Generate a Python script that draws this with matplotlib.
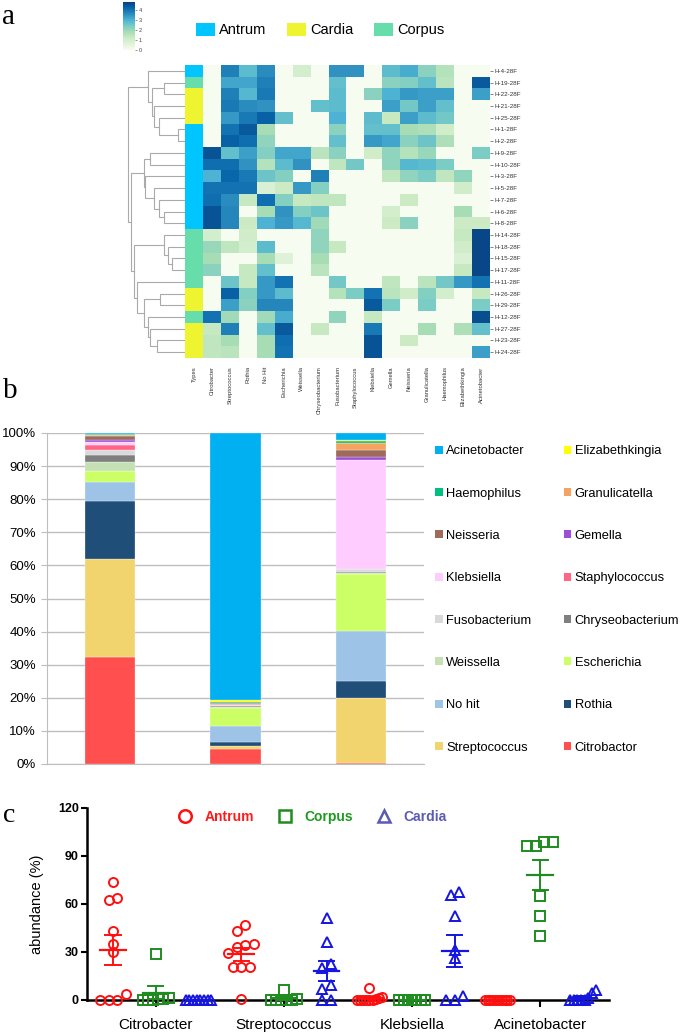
import numpy as np
import matplotlib
matplotlib.use("Agg")
import matplotlib.pyplot as plt
from matplotlib.colors import ListedColormap
from matplotlib.patches import Patch
from matplotlib.lines import Line2D

plt.rcParams['font.family'] = ['Liberation Sans', 'DejaVu Sans']

# ---------------- panel a data ----------------
sample_ids = ["H-4-28F", "H-19-28F", "H-22-28F", "H-21-28F", "H-25-28F", "H-1-28F", "H-2-28F",
              "H-9-28F", "H-10-28F", "H-3-28F", "H-5-28F", "H-7-28F", "H-6-28F", "H-8-28F",
              "H-14-28F", "H-18-28F", "H-15-28F", "H-17-28F", "H-11-28F", "H-26-28F", "H-29-28F",
              "H-12-28F", "H-27-28F", "H-23-28F", "H-24-28F"]
sample_types = ["Antrum", "Corpus", "Cardia", "Cardia", "Cardia", "Antrum", "Antrum",
                "Antrum", "Antrum", "Antrum", "Antrum", "Antrum", "Antrum", "Antrum",
                "Corpus", "Corpus", "Corpus", "Corpus", "Corpus", "Cardia", "Cardia",
                "Corpus", "Cardia", "Cardia", "Cardia"]
genera_a = ["Citrobacter", "Streptococcus", "Rothia", "No Hit", "Escherichia", "Weissella",
            "Chryseobacterium", "Fusobacterium", "Staphylococcus", "Klebsiella", "Gemella",
            "Neisseria", "Granulicatella", "Haemophilus", "Elizabethkingia", "Acinetobacter"]
abund_log = np.array([
    [0, 3.8, 2.8, 3.6, 0, 1.0, 0, 3.5, 3.5, 0, 2.8, 3.1, 2.2, 1.6, 0, 0],
    [0, 3.2, 3.2, 3.8, 0, 0, 0, 2.7, 0, 0, 2.2, 2.3, 2.7, 1.5, 0, 4.4],
    [0, 3.8, 2.9, 3.9, 0, 0, 0, 2.8, 0, 2.2, 3.0, 3.4, 3.3, 3.3, 0, 3.3],
    [0, 3.9, 3.6, 3.5, 0, 0, 2.7, 2.8, 0, 0, 3.3, 2.5, 3.3, 2.7, 0, 0],
    [0, 3.4, 3.9, 4.3, 2.7, 0, 0, 3.0, 0, 2.8, 1.3, 3.3, 2.8, 2.5, 0, 0],
    [0, 4.0, 4.4, 1.8, 0, 0, 0, 2.2, 0, 2.7, 2.7, 1.8, 1.7, 1.1, 0, 0],
    [0, 4.3, 4.1, 2.1, 0, 0, 0, 2.7, 0, 3.4, 3.2, 2.2, 2.6, 1.7, 0, 0],
    [4.5, 2.7, 3.3, 2.3, 3.2, 3.2, 1.5, 2.2, 0, 1.1, 2.1, 1.6, 2.0, 0, 0, 2.4],
    [4.1, 4.1, 3.5, 1.6, 2.8, 3.5, 0, 1.4, 2.5, 0, 2.1, 2.9, 2.8, 2.4, 0, 0],
    [3.0, 4.2, 3.9, 2.6, 2.3, 0, 3.8, 0, 0, 0, 1.4, 2.1, 2.4, 1.4, 2.1, 0],
    [4.0, 4.0, 4.0, 0.8, 1.2, 3.4, 2.3, 0, 0, 0, 0, 0, 0, 0, 1.1, 0],
    [4.1, 3.6, 1.3, 4.1, 2.3, 1.3, 1.4, 1.4, 0, 0, 0, 1.2, 0, 0, 0, 0],
    [4.5, 3.7, 0, 1.8, 3.5, 2.3, 2.6, 0, 0, 0, 1.0, 0, 0, 0, 1.8, 0],
    [4.5, 3.7, 1.2, 3.0, 3.4, 2.9, 1.9, 0, 0, 0, 1.2, 2.2, 0, 0, 1.2, 1.2],
    [1.0, 0, 1.1, 0, 0, 0, 2.1, 0, 0, 0, 0, 0, 0, 0, 1.3, 4.7],
    [2.0, 1.4, 1.0, 2.8, 0, 0, 2.1, 1.3, 0, 0, 0, 0, 0, 0, 1.1, 4.7],
    [1.8, 0, 0, 1.8, 0.7, 0, 1.8, 0, 0, 0, 0, 0, 0, 0, 0.8, 4.7],
    [2.2, 0, 1.3, 2.7, 0, 0, 1.5, 0, 0, 0, 0, 0, 0, 0, 1.3, 4.7],
    [0, 2.6, 1.3, 3.4, 4.0, 0, 0, 2.5, 0, 0, 1.4, 0, 1.5, 2.5, 3.4, 4.0],
    [0, 4.3, 2.3, 3.4, 2.8, 0, 0, 1.6, 2.4, 4.0, 1.5, 1.1, 2.3, 1.0, 0, 1.3],
    [0, 3.3, 2.2, 3.7, 3.7, 0, 0, 0, 0, 4.4, 2.4, 0, 2.4, 0, 0, 2.4],
    [4.0, 1.9, 0, 1.9, 3.1, 0, 0, 2.1, 0, 1.3, 0, 0, 0, 0, 0, 4.6],
    [1.3, 3.8, 0, 2.7, 4.4, 0, 1.3, 0, 0, 3.9, 0, 0, 1.8, 0, 1.7, 2.7],
    [1.4, 1.8, 0, 1.8, 4.1, 0, 0, 0, 0, 4.5, 0, 1.2, 0, 0, 0, 0],
    [1.4, 1.5, 0, 1.8, 4.0, 0, 0, 0, 0, 4.5, 0, 0, 0, 0, 0, 3.3],
])
type_names = ["Antrum", "Cardia", "Corpus"]
type_colors = ["#00C5FF", "#EEF530", "#66DDAA"]

# row dendrogram: (left, right, merge height); leaves are row indices
dendro_tree = (
    (0, (((1, 2, 2.1)), (3, (4, (5, 6, 0.7), 2.6), 3.1), 3.3), 3.6),
    ((((7, 8, 3.4)), (9, (10, (11, (12, 13, 2.1), 2.6), 3.1), 3.9), 4.0),
     ((14, (15, (16, 17, 1.3), 1.7), 2.1),
      (18, ((19, 20, 2.5), (21, (22, (23, 24, 2.8), 3.4), 3.6), 4.0), 4.7), 5.0), 5.3),
    5.6)

# ---------------- panel b data ----------------
groups_b = ["Antrum", "Corpus", "Cardia"]
taxa_b = ["Citrobactor", "Streptococcus", "Rothia", "No hit", "Escherichia", "Weissella",
          "Chryseobacterium", "Fusobacterium", "Staphylococcus", "Klebsiella", "Gemella",
          "Neisseria", "Granulicatella", "Haemophilus", "Elizabethkingia", "Acinetobacter"]
taxa_colors = ["#FF4F4F", "#F2D46F", "#1F4E79", "#9DC3E6", "#CCFF66", "#C5E0B4",
               "#7F7F7F", "#D9D9D9", "#FF6685", "#FFCCFF", "#9B4DDB",
               "#9E6A5A", "#F4A460", "#00C07F", "#FFFF00", "#00B0F0"]
pct_antrum = [32.3, 29.7, 17.5, 5.8, 3.1, 2.8, 2.3, 1.4, 1.6, 0.8, 0.7, 1.0, 0.3, 0.3, 0.1, 0.3]
pct_corpus = [4.4, 1.1, 1.0, 5.1, 5.4, 0.3, 0.3, 0.3, 0.1, 0.1, 0.1, 0.2, 0.1, 0.1, 0.8, 80.6]
pct_cardia = [0.2, 19.7, 5.1, 15.3, 17.0, 0.4, 0.3, 0.8, 0.1, 32.8, 1.0, 2.2, 2.0, 0.8, 0.1, 2.2]

# ---------------- panel c data ----------------
genera_c = ["Citrobacter", "Streptococcus", "Klebsiella", "Acinetobacter"]
sites_c = ["Antrum", "Corpus", "Cardia"]
citro_antrum = [73.5, 63.7, 62.2, 43.4, 35.0, 30.3, 3.5, 0, 0, 0]
citro_corpus = [28.8, 1.0, 0.5, 0.3, 0.5, 0.2, 0]
citro_cardia = [0, 0, 0, 0, 0, 0, 0, 0]
strep_antrum = [47.0, 43.2, 35.0, 34.5, 33.0, 29.6, 20.9, 20.9, 20.9, 0.8]
strep_corpus = [6.3, 0.5, 0.3, 0.2, 0, 0, 0]
strep_cardia = [51.1, 36.5, 22.5, 19.8, 9.4, 6.7, 0, 0]
kleb_antrum = [7.3, 2.0, 1.0, 0.5, 0, 0, 0, 0, 0, 0]
kleb_corpus = [0, 0, 0, 0, 0, 0, 0]
kleb_cardia = [67.2, 65.8, 52.8, 31.3, 26.1, 2.5, 0, 0]
acin_antrum = [0, 0, 0, 0, 0, 0, 0, 0, 0, 0]
acin_corpus = [98.5, 98.5, 96.0, 96.0, 65.3, 52.2, 39.7]
acin_cardia = [6.2, 4.6, 1.0, 0, 0, 0, 0, 0]
site_markers = ["o", "s", "^"]
site_colors = ["#FF1010", "#1E8C1E", "#1515E0"]
legend_marker_colors = ["#FF1010", "#1E8C1E", "#5B5BB5"]
legend_text_colors = ["#FF1A1A", "#1E9B1E", "#5B5BB5"]

W, H = 685, 1035
fig = plt.figure(figsize=(W / 100, H / 100), dpi=100)


def fx(px):
    return px / W


def fy(px):
    return 1 - px / H


# ================= panel a =================
n_rows, n_cols = abund_log.shape
cmap = plt.get_cmap("GnBu")
ax_h = fig.add_axes([fx(185), fy(358), fx(490 - 185), (358 - 65) / H])
mesh = ax_h.pcolormesh(np.arange(1, n_cols + 2), np.arange(n_rows + 1), abund_log,
                       cmap=cmap, vmin=0, vmax=4.8)
type_idx = np.array([type_names.index(t) for t in sample_types])[:, None]
ax_h.pcolormesh([0, 1], np.arange(n_rows + 1), type_idx,
                cmap=ListedColormap(type_colors), vmin=-0.5, vmax=2.5)
ax_h.set_xlim(0, n_cols + 1)
ax_h.set_ylim(n_rows, 0)
for s in ax_h.spines.values():
    s.set_visible(False)
ax_h.yaxis.tick_right()
ax_h.set_yticks(np.arange(n_rows) + 0.5)
ax_h.set_yticklabels(sample_ids, fontsize=4.5, color="#333333")
ax_h.tick_params(axis="y", length=2, width=0.5, color="#555555", pad=1)
ax_h.set_xticks(np.arange(n_cols + 1) + 0.5)
ax_h.set_xticklabels(["Types"] + genera_a, rotation=90, fontsize=4.2, color="#333333")
ax_h.tick_params(axis="x", length=0, pad=6)

# dendrogram
ax_d = fig.add_axes([fx(118), fy(358), fx(185 - 118), (358 - 65) / H])


def draw_tree(node):
    if isinstance(node, int):
        return node + 0.5, 0.0
    left, right, h = node
    yl, hl = draw_tree(left)
    yr, hr = draw_tree(right)
    ax_d.plot([hl, h, h, hr], [yl, yl, yr, yr], color="#AAAAAA", lw=0.8,
              solid_joinstyle="miter")
    return (yl + yr) / 2, h


draw_tree(dendro_tree)
ax_d.set_xlim(6.6, 0)
ax_d.set_ylim(n_rows, 0)
ax_d.axis("off")

# colorbar
cax = fig.add_axes([fx(123), fy(50), fx(12), 48 / H])
cb = fig.colorbar(mesh, cax=cax, ticks=[0, 1, 2, 3, 4])
cb.outline.set_visible(False)
cax.tick_params(labelsize=4, length=1.5, width=0.4, pad=1, colors="#444444")

# type legend
fig.legend([Patch(facecolor=c) for c in type_colors], type_names, ncol=3,
           loc="center", bbox_to_anchor=(fx(320), fy(30)), frameon=False,
           fontsize=10.5, handlelength=1.3, handleheight=1.0, handletextpad=0.3,
           columnspacing=1.4)

fig.text(fx(2), fy(4), "a", family="Liberation Serif", fontsize=21, va="top", ha="left")

# ================= panel b =================
ax_b = fig.add_axes([fx(47), fy(764), fx(424 - 47), (764 - 433) / H])
xb = np.arange(len(groups_b))
pct = np.array([pct_antrum, pct_corpus, pct_cardia])
bottom = np.zeros(len(groups_b))
for k, name in enumerate(taxa_b):
    ax_b.bar(xb, pct[:, k], bottom=bottom, width=0.4, color=taxa_colors[k],
             edgecolor="white", linewidth=0.2, zorder=3)
    bottom += pct[:, k]
ax_b.set_xlim(-0.5, 2.5)
ax_b.set_ylim(0, 100)
ax_b.set_yticks(np.arange(0, 101, 10))
ax_b.set_yticklabels([f"{v}%" for v in range(0, 101, 10)], fontsize=9.5)
ax_b.set_xticks([])
ax_b.grid(axis="y", color="#BEBEBE", lw=1.0, zorder=0)
for side in ["top", "right"]:
    ax_b.spines[side].set_visible(False)
ax_b.spines["left"].set_color("#BEBEBE")
ax_b.spines["bottom"].set_color("#BEBEBE")
ax_b.tick_params(axis="y", length=4, color="#BEBEBE", pad=4)

rev = list(range(len(taxa_b)))[::-1]
order = rev[0::2] + rev[1::2]
leg_handles = [Patch(facecolor=taxa_colors[i]) for i in order]
leg_labels = [taxa_b[i] for i in order]
fig.legend(leg_handles, leg_labels, ncol=2, loc="upper left",
           bbox_to_anchor=(fx(430), fy(440)), frameon=False, fontsize=9.3,
           handlelength=0.6, handleheight=0.6, handletextpad=0.25,
           labelspacing=2.35, columnspacing=2.5, borderaxespad=0)

fig.text(fx(3), fy(378), "b", family="Liberation Serif", fontsize=21, va="top", ha="left")

# ================= panel c =================
ax_c = fig.add_axes([fx(87), fy(1000), fx(609 - 87), (1000 - 808) / H])
data_c = [[citro_antrum, citro_corpus, citro_cardia],
          [strep_antrum, strep_corpus, strep_cardia],
          [kleb_antrum, kleb_corpus, kleb_cardia],
          [acin_antrum, acin_corpus, acin_cardia]]


def spread(values, xc):
    v = np.asarray(values, float)
    idx = np.argsort(v)
    xs = np.full(len(v), xc, float)
    groups = []
    cur = [idx[0]]
    for i in idx[1:]:
        if v[i] - v[cur[-1]] < 4.0:
            cur.append(i)
        else:
            groups.append(cur)
            cur = [i]
    groups.append(cur)
    for g in groups:
        k = len(g)
        if k > 1:
            w = min(0.3, 0.1 * (k - 1))
            xs[g] = xc + np.linspace(-w, w, k)
    return xs


for g, gen in enumerate(genera_c):
    for s, site in enumerate(sites_c):
        vals = np.asarray(data_c[g][s], float)
        xc = 3 * g + s + 1
        xs = spread(vals, xc)
        ax_c.plot(xs, vals, linestyle="none", marker=site_markers[s], ms=6.5,
                  mfc="none", mec=site_colors[s], mew=1.4, clip_on=False, zorder=3)
        m = vals.mean()
        sem = vals.std(ddof=1) / np.sqrt(len(vals))
        ax_c.plot([xc - 0.3, xc + 0.3], [m, m], color=site_colors[s], lw=1.6, zorder=4,
                  clip_on=False)
        ax_c.plot([xc, xc], [m - sem, m + sem], color=site_colors[s], lw=1.4, zorder=4,
                  clip_on=False)
        for yv in (m - sem, m + sem):
            ax_c.plot([xc - 0.18, xc + 0.18], [yv, yv], color=site_colors[s], lw=1.4,
                      zorder=4, clip_on=False)

ax_c.set_xlim(0.39, 12.61)
ax_c.set_ylim(0, 120)
ax_c.set_yticks([0, 30, 60, 90, 120])
ax_c.set_yticklabels(["0", "30", "60", "90", "120"], fontsize=9, fontweight="bold")
ax_c.set_xticks([3 * g + 2 for g in range(len(genera_c))])
ax_c.set_xticklabels(genera_c, fontsize=11)
ax_c.tick_params(axis="x", length=5, width=1.5, pad=8)
ax_c.tick_params(axis="y", length=4, width=1.5, pad=2)
for side in ["top", "right"]:
    ax_c.spines[side].set_visible(False)
for side in ["left", "bottom"]:
    ax_c.spines[side].set_linewidth(1.8)
ax_c.set_ylabel("abundance (%)", fontsize=10.5, labelpad=10)

c_handles = [Line2D([], [], linestyle="none", marker=site_markers[s], ms=9, mfc="none",
                    mec=legend_marker_colors[s], mew=1.8) for s in range(3)]
leg_c = ax_c.legend(c_handles, sites_c, ncol=3, loc="center",
                    bbox_to_anchor=(0.425, 0.953), frameon=False,
                    handletextpad=0.4, columnspacing=1.2,
                    prop={"weight": "bold", "size": 10})
for t, c in zip(leg_c.get_texts(), legend_text_colors):
    t.set_color(c)

fig.text(fx(3), fy(803), "c", family="Liberation Serif", fontsize=20, va="top", ha="left")

fig.savefig("out.png", dpi=100)
